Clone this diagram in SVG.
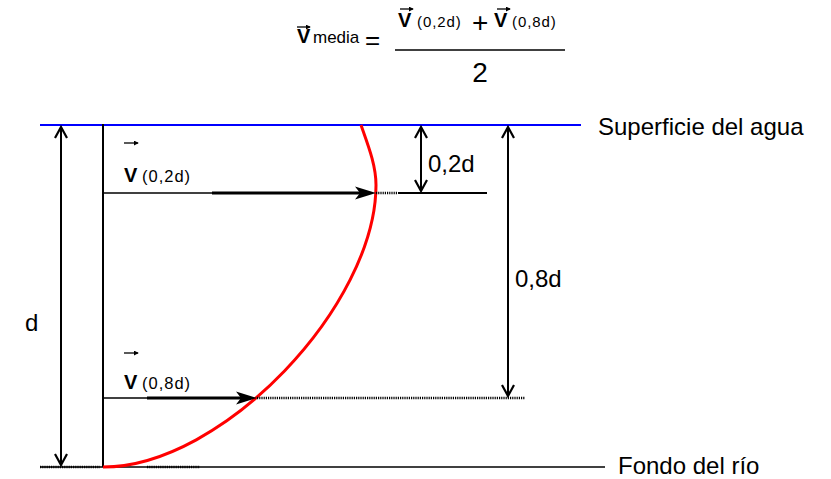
<svg xmlns="http://www.w3.org/2000/svg" width="831" height="479" viewBox="0 0 831 479">
<style>
  text { font-family: "Liberation Sans", Arial, sans-serif; fill: #000; }
  .big { font-size: 24px; }
  .vec { font-size: 20px; font-weight: bold; }
  .sub { font-size: 16.5px; letter-spacing: 1px; }
  .subf { font-size: 15px; letter-spacing: 0.9px; }
  .ln { stroke: #000; stroke-width: 2; fill: none; }
  .dot { stroke: #000; stroke-width: 2.5; stroke-dasharray: 1.2 1; fill: none; }
  .head { fill: #000; }
  .tiny { stroke: #000; stroke-width: 1.3; fill: none; }
</style>
<defs>
  <marker id="oa" viewBox="0 0 14 14" refX="12" refY="7" markerWidth="14" markerHeight="14" markerUnits="userSpaceOnUse" orient="auto-start-reverse">
    <path d="M1,1 L12,7 L1,13" fill="none" stroke="#000" stroke-width="2.2"/>
  </marker>
  <marker id="sa" viewBox="0 0 6 6" refX="5" refY="3" markerWidth="5" markerHeight="5" markerUnits="userSpaceOnUse" orient="auto">
    <path d="M0,0 L6,3 L0,6 Z" fill="#000"/>
  </marker>
</defs>

<!-- formula -->
<g id="formula">
  <line class="tiny" x1="297" y1="27" x2="310" y2="27" marker-end="url(#sa)"/>
  <text class="vec" x="297" y="43">V</text>
  <text x="313" y="43" font-size="17">media</text>
  <text x="365" y="49" font-size="26">=</text>
  <line x1="395" y1="50" x2="565" y2="50" stroke="#000" stroke-width="1.5"/>
  <line class="tiny" x1="400" y1="9" x2="413" y2="9" marker-end="url(#sa)"/>
  <text class="vec" x="398" y="27">V</text>
  <text class="subf" x="417" y="27">(0,2d)</text>
  <text x="472" y="32" font-size="28">+</text>
  <line class="tiny" x1="497" y1="9" x2="510" y2="9" marker-end="url(#sa)"/>
  <text class="vec" x="494" y="27">V</text>
  <text class="subf" x="512" y="27">(0,8d)</text>
  <text x="480" y="82" font-size="28" text-anchor="middle">2</text>
</g>

<!-- surface and bottom -->
<g id="superficie">
  <line x1="40" y1="125" x2="581" y2="125" stroke="#0000ff" stroke-width="2"/>
  <text class="big" x="598" y="135">Superficie del agua</text>
</g>
<g id="fondo">
  <line x1="40" y1="467" x2="605" y2="467" stroke="#000" stroke-width="1.6"/>
  <line class="dot" x1="40" y1="467" x2="100" y2="467"/>
  <line class="dot" x1="147" y1="467" x2="200" y2="467"/>
  <text class="big" x="618" y="474">Fondo del río</text>
</g>

<!-- vertical reference line -->
<g id="eje">
  <line class="ln" x1="103" y1="124" x2="103" y2="467"/>
</g>

<!-- velocity profile -->
<g id="perfil">
  <path d="M361,125 C368,145 376,165 376,185 C376,305 223,467 103,467" fill="none" stroke="#ff0000" stroke-width="3"/>
</g>

<!-- labels -->
<g id="v02">
  <line class="tiny" x1="124" y1="143" x2="138" y2="143" marker-end="url(#sa)"/>
  <text class="vec" x="124" y="182">V</text>
  <text class="sub" x="142" y="182">(0,2d)</text>
</g>
<g id="v08">
  <line class="tiny" x1="124" y1="353" x2="138" y2="353" marker-end="url(#sa)"/>
  <text class="vec" x="124" y="389">V</text>
  <text class="sub" x="142" y="389">(0,8d)</text>
</g>
<g id="d-label">
  <text class="big" x="25" y="331">d</text>
</g>
<g id="l02">
  <text class="big" x="428" y="172">0,2d</text>
</g>
<g id="l08">
  <text class="big" x="515" y="287">0,8d</text>
</g>

<!-- connectors -->
<g id="connectors">
  <line class="ln" x1="61" y1="127" x2="61" y2="465" marker-start="url(#oa)" marker-end="url(#oa)"/>
  <line class="ln" x1="421" y1="127" x2="421" y2="191" marker-start="url(#oa)" marker-end="url(#oa)"/>
  <line class="ln" x1="508" y1="127" x2="508" y2="396" marker-start="url(#oa)" marker-end="url(#oa)"/>
  <line x1="103" y1="193" x2="212" y2="193" stroke="#000" stroke-width="1.6"/>
  <line x1="212" y1="193" x2="362" y2="193" stroke="#000" stroke-width="3"/>
  <path class="head" d="M376,193 L355,186.5 L360,193 L355,199.5 Z"/>
  <line class="dot" x1="376" y1="193" x2="398" y2="193"/>
  <line x1="398" y1="193" x2="487" y2="193" stroke="#000" stroke-width="2"/>
  <line x1="103" y1="398" x2="147" y2="398" stroke="#000" stroke-width="1.6"/>
  <line x1="147" y1="398" x2="244" y2="398" stroke="#000" stroke-width="3"/>
  <path class="head" d="M257,398 L236,391.5 L241,398 L236,404.5 Z"/>
  <line class="dot" x1="257" y1="398" x2="525" y2="398"/>
</g>
</svg>
